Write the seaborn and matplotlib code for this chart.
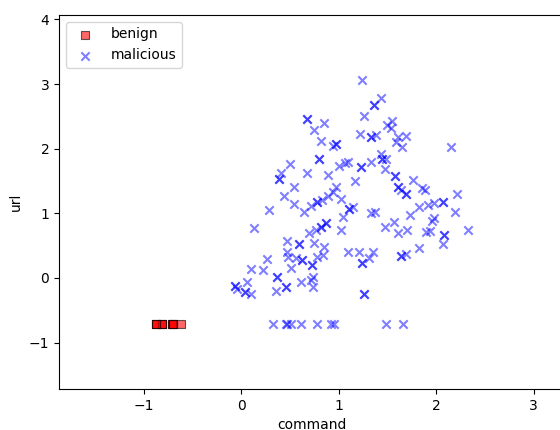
import matplotlib

matplotlib.use("Agg")
import matplotlib.pyplot as plt
import pandas as pd
import seaborn as sns

# benign samples: all sit on one url value, many repeated commands
benign_command = [-0.615, -0.71, -0.70, -0.71, -0.70, -0.81, -0.87, -0.81, -0.87, -0.81, -0.87]
benign_url = [-0.72] * len(benign_command)

# malicious samples
malicious_command = [
    1.24, 1.36, 1.36, 1.43, 1.26, 0.67, 0.67, 0.75, 0.85, 0.82, 0.97, 0.97, 0.94, 1.22,
    1.33, 1.33, 1.38, 1.50, 1.55, 1.54, 1.61, 1.69, 1.59, 1.65, 2.15, 1.43, 1.44, 1.44,
    1.49, 1.33, 1.47, 1.23, 1.23, 1.10, 1.06, 1.00, 0.80, 0.80, 0.50, 0.67, 0.89, 0.41,
    0.39, 0.39, 1.17, 1.58, 1.58, 1.76,
    1.61, 1.61, 1.69, 1.69, 1.64, 1.85, 1.89, 0.54, 0.44, 0.97, 0.94, 0.89, 1.02, 0.78,
    0.78, 0.83, 0.72, 1.11, 1.11, 1.15, 1.33, 1.37, 0.54, 0.28, 0.64, 2.07, 2.07, 2.21,
    2.19, 1.82, 1.92, 1.98, 1.73, 1.04, 0.87, 0.87, 0.82, 0.82, 0.77, 0.69, 1.02, 0.13,
    1.57, 1.47, 1.61, 1.70, 1.98, 1.96, 1.90, 1.94, 2.08, 2.08, 2.07, 2.33, 1.10, 1.21,
    1.24, 1.24, 1.31, 1.35, 1.64, 1.64, 1.69, 1.82, 1.26, 1.26, 0.75, 0.59, 0.59, 0.85,
    0.47, 0.47, 0.48, 0.56, 0.62, 0.62, 0.73, 0.73, 0.78, 0.84, 0.51, 0.26, 0.10, 0.22,
    0.06, -0.06, -0.06, -0.04, 0.04, 0.04, 0.10, 0.37, 0.37, 0.36, 0.46, 0.46, 0.61,
    0.74, 0.74, 0.72,
    0.33, 0.46, 0.47, 0.51, 0.61, 0.78, 0.92, 0.95, 1.49, 1.66,
]
malicious_url = [
    3.07, 2.67, 2.67, 2.79, 2.51, 2.46, 2.46, 2.29, 2.40, 2.12, 2.07, 2.07, 2.04, 2.23,
    2.18, 2.18, 2.21, 2.36, 2.43, 2.32, 2.18, 2.20, 2.11, 2.02, 2.02, 1.92, 1.84, 1.84,
    1.84, 1.80, 1.69, 1.72, 1.72, 1.80, 1.78, 1.73, 1.84, 1.84, 1.77, 1.63, 1.59, 1.62,
    1.53, 1.53, 1.50, 1.57, 1.57, 1.52,
    1.41, 1.41, 1.30, 1.30, 1.36, 1.39, 1.36, 1.41, 1.27, 1.41, 1.33, 1.26, 1.22, 1.18,
    1.18, 1.21, 1.12, 1.06, 1.06, 1.09, 1.00, 1.02, 1.15, 1.05, 1.02, 1.18, 1.18, 1.30,
    1.02, 1.10, 1.13, 1.16, 0.98, 0.95, 0.85, 0.85, 0.79, 0.79, 0.74, 0.70, 0.74, 0.77,
    0.87, 0.79, 0.70, 0.74, 0.93, 0.88, 0.71, 0.73, 0.67, 0.67, 0.53, 0.74, 0.40, 0.40,
    0.23, 0.23, 0.31, 0.40, 0.34, 0.34, 0.37, 0.46, -0.25, -0.25, 0.54, 0.53, 0.53, 0.48,
    0.57, 0.40, 0.33, 0.31, 0.28, 0.28, 0.20, 0.20, 0.33, 0.36, 0.15, 0.29, 0.14, 0.12,
    -0.06, -0.13, -0.13, -0.17, -0.22, -0.22, -0.25, 0.02, 0.02, -0.20, -0.14, -0.14, -0.06,
    0.02, -0.14, -0.04,
    -0.72, -0.72, -0.72, -0.72, -0.72, -0.72, -0.72, -0.72, -0.72, -0.72,
]

df = pd.concat([
    pd.DataFrame({"command": benign_command, "url": benign_url, "label": "benign"}),
    pd.DataFrame({"command": malicious_command, "url": malicious_url, "label": "malicious"}),
])

fig = plt.figure(figsize=(5.6, 4.3), dpi=100)
ax = fig.add_axes([0.1054, 0.0953, 0.905, 0.870])

ben = df[df["label"] == "benign"]
mal = df[df["label"] == "malicious"]
sns.scatterplot(data=ben, x="command", y="url", marker="s", color="red", alpha=0.6,
                edgecolor="black", linewidth=0.8, s=36, label="benign", ax=ax)
sns.scatterplot(data=mal, x="command", y="url", marker="x", color="blue", alpha=0.5,
                linewidth=1.5, s=36, label="malicious", ax=ax)

ax.set_xlim(df["command"].min() - 1, df["command"].max() + 1)
ax.set_ylim(df["url"].min() - 1, df["url"].max() + 1)
ax.set_xlabel("command")
ax.set_ylabel("url")
ax.legend(loc="upper left")

fig.savefig("out.png", dpi=100)
